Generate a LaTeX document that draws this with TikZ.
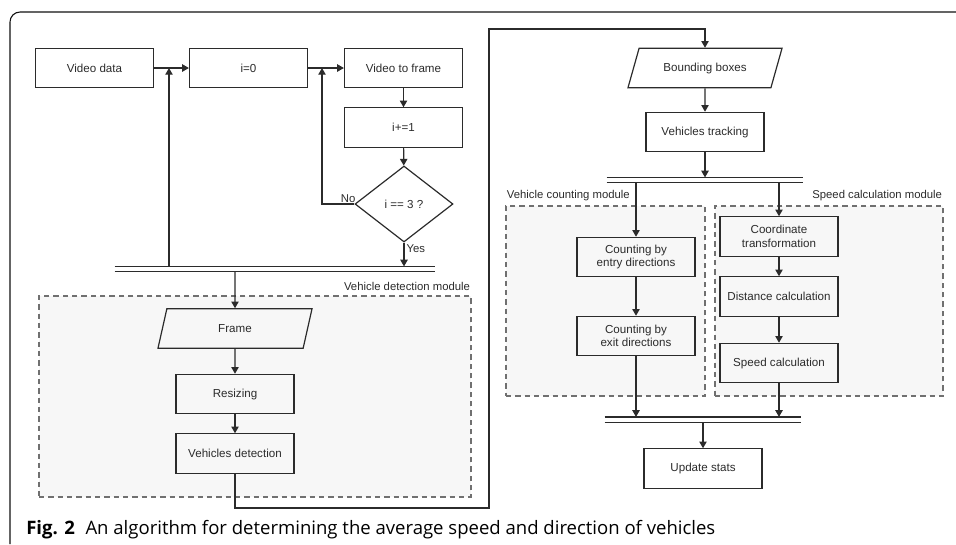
\documentclass[tikz,border=0pt]{standalone}
\usepackage{fontspec}
\setmainfont{Liberation Sans}
\newfontfamily\capfont{Open Sans}
\usetikzlibrary{arrows.meta,positioning,shapes.geometric}
\definecolor{Ink}{HTML}{2B2B2B}
\definecolor{Edge}{HTML}{111111}
\definecolor{ModLine}{HTML}{707070}
\definecolor{ModFill}{HTML}{F7F7F7}
\tikzset{box/.style={draw=Ink,line width=.9pt,minimum width=88.5pt,minimum height=29.5pt,inner sep=1pt,align=center,text=Ink,font=\fontsize{8.7}{10}\selectfont},data/.style={trapezium,trapezium left angle=50.6,trapezium right angle=129.4,trapezium stretches body,draw=Ink,line width=.9pt,minimum width=115.5pt,minimum height=29.5pt,inner sep=1pt,text=Ink,font=\fontsize{8.7}{10}\selectfont},decision/.style={diamond,draw=Ink,line width=.9pt,minimum width=73.5pt,minimum height=57pt,inner sep=0pt,text=Ink,font=\fontsize{8.7}{10}\selectfont},flow/.style={-{Triangle[length=5pt,width=5.5pt]},line width=.9pt,draw=Ink},bar/.style={minimum height=3.5pt,inner sep=0pt},module/.style={draw=ModLine,fill=ModFill,line width=1pt,dash pattern=on 4pt off 3pt,inner sep=0pt},tag/.style={inner sep=1pt,text=Ink,font=\fontsize{8.5}{10}\selectfont}}
\begin{document}
\begin{tikzpicture}[x=.75pt,y=-.75pt]
        \useasboundingbox(0,0)rectangle(956,544);
        \draw[Edge,line width=.8pt,rounded corners=7.5pt](10,544)|-(956,12);
        \node[module,minimum width=324pt,minimum height=150.75pt](detmod)at(255,396.5){};
        \node[module,minimum width=149.25pt,minimum height=142.5pt](cntmod)at(605.5,301){};
        \node[module,minimum width=171pt,minimum height=142.5pt](spdmod)at(829,301){};
        \node[tag,anchor=south east](detlbl)at([yshift=2pt]detmod.north east){Vehicle detection module};
        \node[tag,anchor=south west](cntlbl)at([yshift=2pt]cntmod.north west){Vehicle counting module};
        \node[tag,anchor=south east](spdlbl)at([yshift=2pt]spdmod.north east){Speed calculation module};
        \node[box](vdata)at(94.5,68){Video data};
        \node[box](init)at(248.5,68){i=0};
        \node[box](vtf)at(403.5,68){Video to frame};
        \node[box](inc)at(403.5,127.5){i+=1};
        \node[decision](dia)at(404,204){i == 3 ?};
        \node[bar,minimum width=240pt](bar1)at(275,269){};
        \node[data](frame)at(235,328.5){Frame};
        \node[box](resize)at(235,394){Resizing};
        \node[box](vdet)at(235,453.5){Vehicles detection};
        \node[data](bbox)at(705,68){Bounding boxes};
        \node[box](track)at(705,132){Vehicles tracking};
        \node[bar,minimum width=147pt](bar2)at(705,180){};
        \node[box](entry)at(636,257){Counting by\\entry directions};
        \node[box](exit)at(636,336){Counting by\\exit directions};
        \node[box](coord)at(779,236.5){Coordinate\\transformation};
        \node[box](dist)at(779,296.5){Distance calculation};
        \node[box](speed)at(779,363){Speed calculation};
        \node[bar,minimum width=147pt](bar3)at(703,419.5){};
        \node[box](upd)at(703,468.5){Update stats};
        \foreach \b in {bar1,bar2,bar3}\draw[Ink,line width=.9pt](\b.north west)--(\b.north east)(\b.south west)--(\b.south east);
        \coordinate(up1)at(169,68);
        \coordinate(up2)at(322,68);
        \coordinate(t1)at(489,508);
        \coordinate(t2)at(489,29);
        \draw[flow](vdata)--(init);
        \draw[flow](init)--(vtf);
        \foreach \a/\b in {vtf/inc,inc/dia,frame/resize,resize/vdet,bbox/track,entry/exit,coord/dist,dist/speed}\draw[flow](\a)--(\b);
        \draw[flow](dia.west)-|(up2);
        \draw[flow](bar1.north-|up1)--(up1);
        \draw[flow](dia.south)--(dia.south|-bar1.north);
        \draw[flow](bar1.south-|frame)--(frame);
        \draw[flow](vdet.south)|-(t1)--(t2)-|(bbox.north);
        \draw[flow](track)--(track|-bar2.north);
        \draw[flow](bar2.south-|entry)--(entry);
        \draw[flow](bar2.south-|coord)--(coord);
        \draw[flow](exit)--(exit|-bar3.north);
        \draw[flow](speed)--(speed|-bar3.north);
        \draw[flow](bar3.south-|upd)--(upd);
        \node[tag,anchor=base east](no)at(357,202){No};
        \node[tag,anchor=base west](yes)at(405,252){Yes};
        \node[anchor=base west,inner sep=0pt,font=\capfont\fontsize{13.9}{16}\selectfont](cap)at(26,534){\textbf{Fig. 2}\hspace{8pt}An algorithm for determining the average speed and direction of vehicles};
      \end{tikzpicture}
\end{document}
